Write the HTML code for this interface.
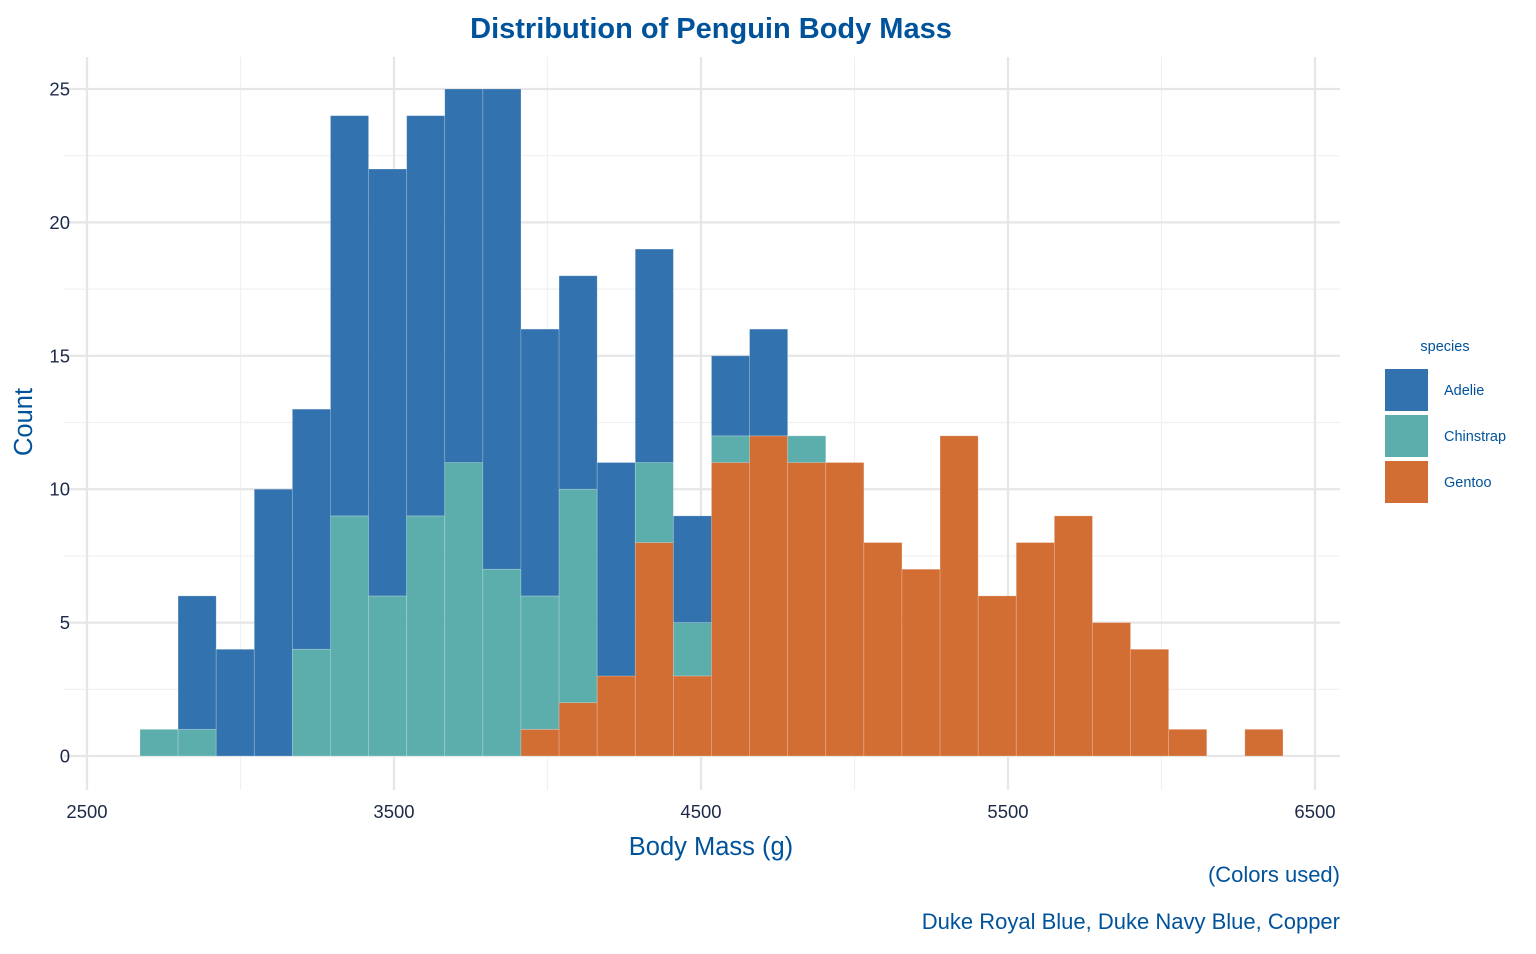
<!DOCTYPE html>
<html><head><meta charset="utf-8"><style>
body{margin:0;background:#fff;font-family:"Liberation Sans",sans-serif;}
svg text{font-family:"Liberation Sans",sans-serif;}
</style></head><body>
<svg id="chart" width="1536" height="949" xmlns="http://www.w3.org/2000/svg">
<text x="711" y="38" text-anchor="middle" font-size="29" font-weight="bold" fill="#00539B">Distribution of Penguin Body Mass</text>
<g id="grid"></g>
<g id="bars"></g>
<g id="axes"></g>
<text x="711" y="855" text-anchor="middle" font-size="25.5" fill="#00539B">Body Mass (g)</text>
<text transform="translate(32,422) rotate(-90)" text-anchor="middle" font-size="25.5" fill="#00539B">Count</text>
<text x="1340" y="882" text-anchor="end" font-size="22" fill="#00539B">(Colors used)</text>
<text x="1340" y="929" text-anchor="end" font-size="22" fill="#00539B">Duke Royal Blue, Duke Navy Blue, Copper</text>
<g>
<text x="1445" y="351" text-anchor="middle" font-size="14.5" fill="#00539B">species</text>
<rect x="1385" y="369" width="43" height="42" fill="#3272ae"/>
<text x="1444" y="395" font-size="14.5" fill="#00539B">Adelie</text>
<rect x="1385" y="415" width="43" height="42" fill="#5caead"/>
<text x="1444" y="441" font-size="14.5" fill="#00539B">Chinstrap</text>
<rect x="1385" y="461" width="43" height="42" fill="#d26d33"/>
<text x="1444" y="487" font-size="14.5" fill="#00539B">Gentoo</text>
</g>
</svg>
<script>
const binStart = 2672.6;
const binWidth = 124.1;
const gentoo    = [0,0,0,0,0,0,0,0,0,0,1,2,3,8,3,11,12,11,11,8,7,12,6,8,9,5,4,1,0,1];
const chinstrap = [1,1,0,0,4,9,6,9,11,7,5,8,0,3,2,1,0,1,0,0,0,0,0,0,0,0,0,0,0,0];
const adelie    = [0,5,4,10,9,15,16,15,14,18,10,8,8,8,4,3,4,0,0,0,0,0,0,0,0,0,0,0,0,0];
const xTicks = [2500,3500,4500,5500,6500];
const xMinor = [3000,4000,5000,6000];
const yTicks = [0,5,10,15,20,25];
const yMinor = [2.5,7.5,12.5,17.5,22.5];

const NS="http://www.w3.org/2000/svg";
const xs = v => 87 + (v-2500)*0.307;
const ys = v => 756 - v*26.68;
function mk(tag, attrs, parent){const e=document.createElementNS(NS,tag);for(const k in attrs)e.setAttribute(k,attrs[k]);parent.appendChild(e);return e;}
const grid=document.getElementById('grid'), bars=document.getElementById('bars'), axes=document.getElementById('axes');
xMinor.forEach(v=>{const l=mk('line',{x1:xs(v),x2:xs(v),y1:57,y2:790,stroke:'#f0f0f0','stroke-width':1.2},grid);
});
yMinor.forEach(v=>{const l=mk('line',{x1:64,x2:1340,y1:ys(v),y2:ys(v),stroke:'#f0f0f0','stroke-width':1.2},grid);
});
xTicks.forEach(v=>{const l=mk('line',{x1:xs(v),x2:xs(v),y1:57,y2:790,stroke:'#e6e6e6','stroke-width':2.2},grid);

const t=mk('text',{x:xs(v),y:818,'text-anchor':'middle','font-size':18.5,fill:'#1c2a48'},axes);t.textContent=v;
});
yTicks.forEach(v=>{const l=mk('line',{x1:64,x2:1340,y1:ys(v),y2:ys(v),stroke:'#e6e6e6','stroke-width':2.2},grid);

const t=mk('text',{x:70,y:ys(v)+6.5,'text-anchor':'end','font-size':18.5,fill:'#1c2a48'},axes);t.textContent=v;
});
const series=[['gentoo',gentoo,'#d26d33'],['chinstrap',chinstrap,'#5caead'],['adelie',adelie,'#3272ae']];
for(let i=0;i<gentoo.length;i++){
  let base=0;
  const x0=xs(binStart+i*binWidth), x1=xs(binStart+(i+1)*binWidth);
  series.forEach(([name,arr,col])=>{
    const v=arr[i]; if(v>0){
      const r=mk('rect',{x:x0,y:ys(base+v),width:x1-x0,height:ys(base)-ys(base+v),fill:col,stroke:'rgba(255,255,255,0.25)','stroke-width':0.8},bars);
      
      
    }
    base+=v;
  });
}
</script>
</body></html>
